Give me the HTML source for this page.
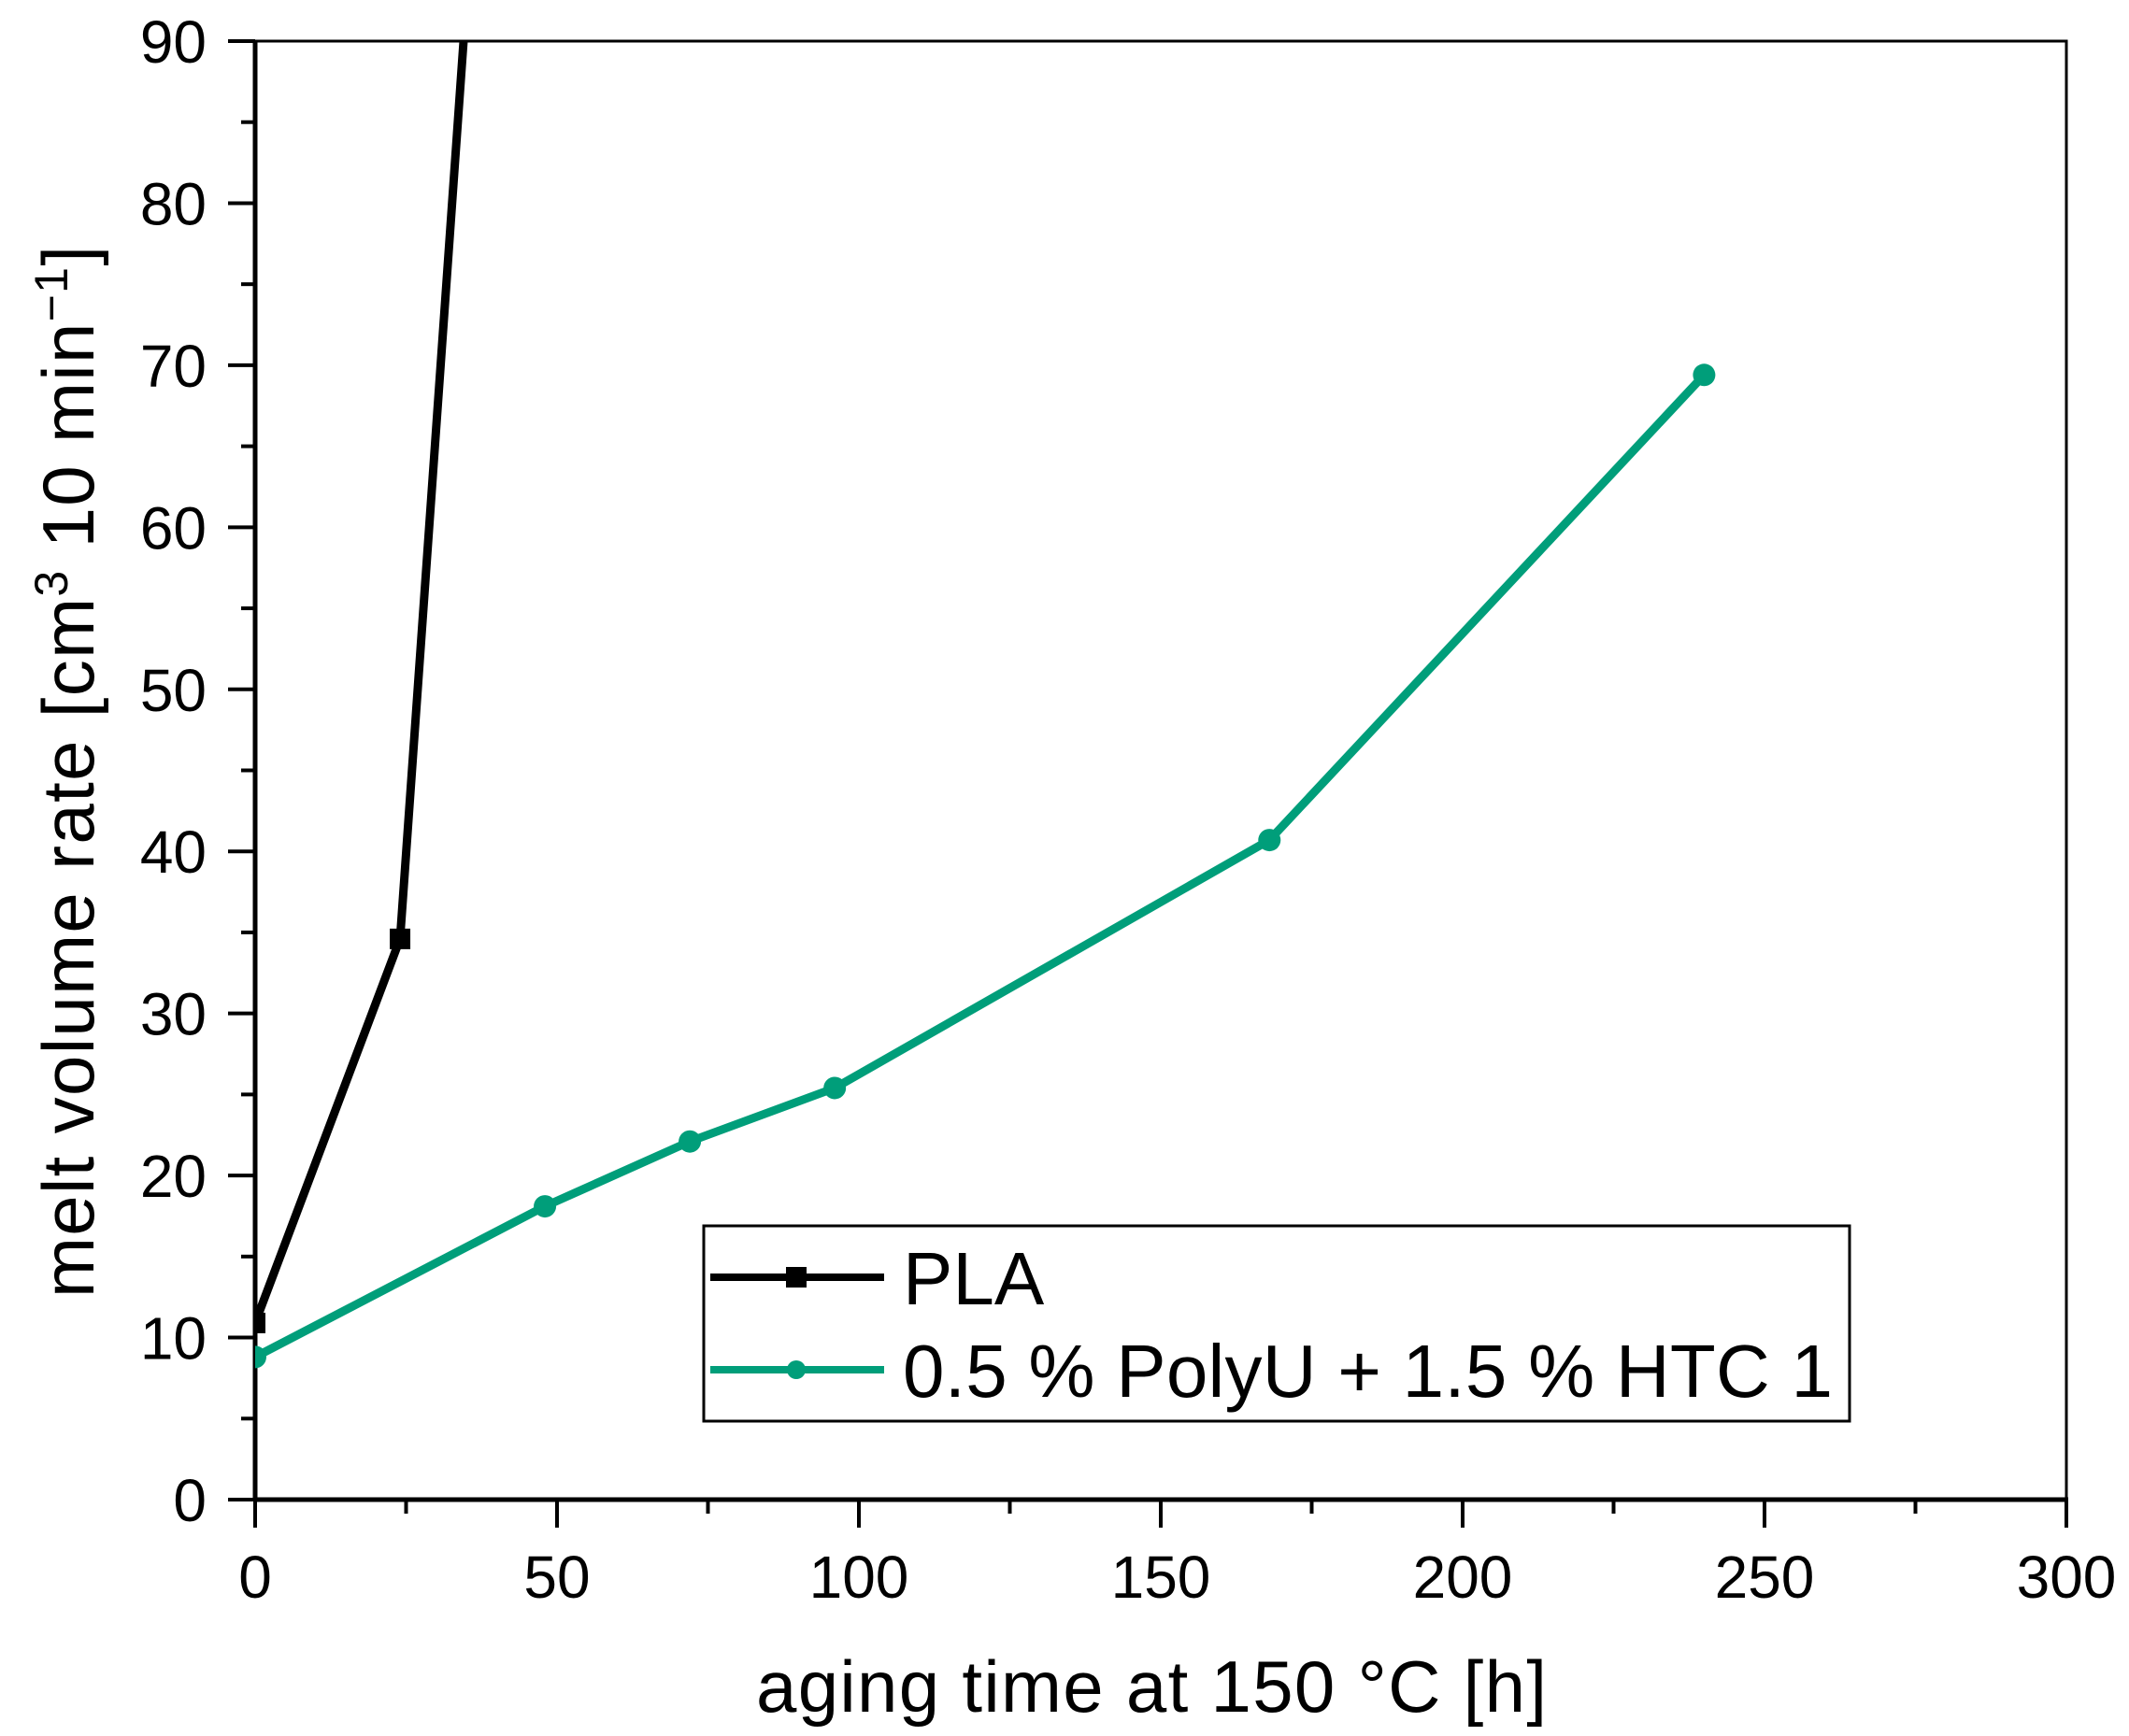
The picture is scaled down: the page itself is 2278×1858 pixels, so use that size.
<!DOCTYPE html>
<html><head><meta charset="utf-8"><style>
html,body{margin:0;padding:0;background:#fff;}
svg{display:block;font-family:"Liberation Sans",Arial,sans-serif;}
</style></head><body>
<svg id="chart" width="2278" height="1858" viewBox="0 0 2278 1858" xmlns="http://www.w3.org/2000/svg">
<defs><clipPath id="plotclip"><rect x="273" y="44" width="1938" height="1561"/></clipPath></defs>
<g id="axes"></g>
<g id="series" clip-path="url(#plotclip)"></g>
<text x="1232" y="1832" font-size="78" text-anchor="middle" textLength="846">aging time at 150 °C [h]</text>
<text transform="translate(100,826) rotate(-90)" font-size="78" text-anchor="middle" textLength="1126">melt volume rate [cm<tspan dy="-28" font-size="50">3</tspan><tspan dy="28"> 10 min</tspan><tspan dy="-28" font-size="50">−1</tspan><tspan dy="28">]</tspan></text>
<g>
<rect x="753" y="1312" width="1226" height="209" fill="#fff" stroke="#000" stroke-width="3"/>
<line x1="760" y1="1367" x2="946" y2="1367" stroke="#000" stroke-width="8"/>
<rect x="841" y="1356" width="22" height="22" fill="#000"/>
<text x="966" y="1396" font-size="80">PLA</text>
<line x1="760" y1="1466" x2="946" y2="1466" stroke="#009e7a" stroke-width="8"/>
<circle cx="852" cy="1466" r="10" fill="#009e7a"/>
<text x="966" y="1495" font-size="80" textLength="995">0.5 % PolyU + 1.5 % HTC 1</text>
</g>
</svg>
<script>
const xTicks = [0, 50, 100, 150, 200, 250, 300];
const yTicks = [0, 10, 20, 30, 40, 50, 60, 70, 80, 90];
const plaX = [0, 24, 48];
const plaY = [10.9, 34.6, 161];
const polyX = [0, 48, 72, 96, 168, 240];
const polyY = [8.8, 18.1, 22.1, 25.4, 40.7, 69.4];

const X0 = 273, X1 = 2211, Y0 = 1605, Y1 = 44;
function sx(v){ return X0 + (v - 0) / 300 * (X1 - X0); }
function sy(v){ return Y0 - (v - 0) / 90 * (Y0 - Y1); }
const NS = "http://www.w3.org/2000/svg";
function mk(tag, attrs, parent){ const e = document.createElementNS(NS, tag); for (const k in attrs) e.setAttribute(k, attrs[k]); parent.appendChild(e); return e; }
const axes = document.getElementById('axes');
const series = document.getElementById('series');

let frame = mk('rect', {x:X0, y:Y1, width:X1-X0, height:Y0-Y1, fill:'none', stroke:'#000', 'stroke-width':3}, axes);


let xa = mk('line', {x1:X0-2, y1:Y0, x2:X1+2, y2:Y0, stroke:'#000', 'stroke-width':5}, axes);


let ya = mk('line', {x1:X0, y1:Y0+2, x2:X0, y2:Y1, stroke:'#000', 'stroke-width':5}, axes);



xTicks.forEach((t, i) => {
  const x = sx(t);
  let l = mk('line', {x1:x, y1:Y0, x2:x, y2:Y0+30, stroke:'#000', 'stroke-width':4}, axes);
  
  
  let tx = mk('text', {x:x, y:1710, 'font-size':64, 'text-anchor':'middle'}, axes);
  tx.textContent = String(t);
  
  
  if (i < xTicks.length - 1) {
    const m = sx((t + xTicks[i+1]) / 2);
    let ml = mk('line', {x1:m, y1:Y0, x2:m, y2:Y0+15, stroke:'#000', 'stroke-width':4}, axes);
    
    
  }
});
yTicks.forEach((t, i) => {
  const y = sy(t);
  let l = mk('line', {x1:X0-29, y1:y, x2:X0, y2:y, stroke:'#000', 'stroke-width':4}, axes);
  
  
  let tx = mk('text', {x:221, y:y+23, 'font-size':64, 'text-anchor':'end'}, axes);
  tx.textContent = String(t);
  
  
  if (i < yTicks.length - 1) {
    const m = sy((t + yTicks[i+1]) / 2);
    let ml = mk('line', {x1:X0-15, y1:m, x2:X0, y2:m, stroke:'#000', 'stroke-width':4}, axes);
    
    
  }
});

function pts(xs, ys){ return xs.map((v, i) => sx(v) + ',' + sy(ys[i])).join(' '); }
let pl = mk('polyline', {points:pts(polyX, polyY), fill:'none', stroke:'#009e7a', 'stroke-width':9, 'stroke-linejoin':'round'}, series);


polyX.forEach((v, i) => {
  let c = mk('circle', {cx:sx(v), cy:sy(polyY[i]), r:12, fill:'#009e7a'}, series);
  
  
});
let bl = mk('polyline', {points:pts(plaX, plaY), fill:'none', stroke:'#000', 'stroke-width':9, 'stroke-linejoin':'round'}, series);


plaX.forEach((v, i) => {
  let r = mk('rect', {x:sx(v)-11, y:sy(plaY[i])-11, width:22, height:22, fill:'#000'}, series);
  
  
});
</script>
</body></html>
